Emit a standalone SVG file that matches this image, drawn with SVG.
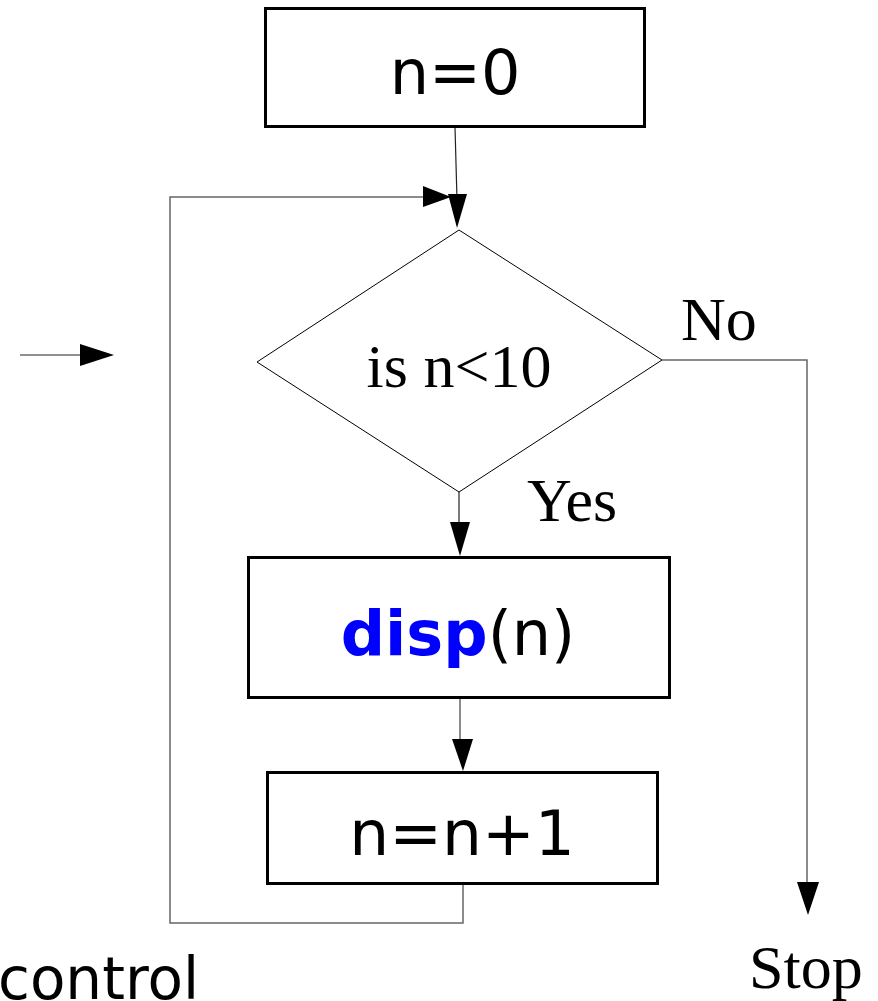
<svg xmlns="http://www.w3.org/2000/svg" width="878" height="1001" viewBox="0 0 878 1001">
<style>
.box{fill:#fff;stroke:#000;stroke-width:3}
.dia{fill:#fff;stroke:#000;stroke-width:1}
.ln{fill:none;stroke:#222;stroke-width:1.2}
.lg{fill:none;stroke:#666;stroke-width:1.5}
.ah{fill:#000;stroke:none}
.sans{font-family:"DejaVu Sans",sans-serif;font-size:62px;fill:#000}
.serif{font-family:"Liberation Serif",serif;font-size:62px;fill:#000}
</style>
<rect width="878" height="1001" fill="#fff"/>
<g id="connectors">
<line class="ln" x1="455" y1="127" x2="457" y2="200"/>
<polygon class="ah" points="448,194 467,194 457,228"/>
<polyline class="lg" points="463,884 463,923 170,923 170,197 425,197"/>
<polygon class="ah" points="423,186 423,207 451,197"/>
<line class="ln" x1="20" y1="355" x2="82" y2="355"/>
<polygon class="ah" points="80,344 80,366 114,355"/>
<polyline class="lg" points="662,360 807,360 807,885"/>
<polygon class="ah" points="797,882 819,882 808,915"/>
<line class="ln" x1="459" y1="492" x2="459" y2="526"/>
<polygon class="ah" points="450,522 470,522 460,556"/>
<line class="lg" x1="460" y1="698" x2="460" y2="742"/>
<polygon class="ah" points="452,739 473,739 463,771"/>
</g>
<g id="n0">
<rect class="box" x="265.5" y="8.5" width="379" height="118"/>
<text class="sans" x="455" y="94" text-anchor="middle">n=0</text>
</g>
<g id="cond">
<polygon class="dia" points="459,230 662,360 459,492 257,362"/>
<text class="serif" x="459" y="387" text-anchor="middle">is n&lt;10</text>
</g>
<g id="labels">
<text class="serif" x="681" y="340">No</text>
<text class="serif" x="527" y="521">Yes</text>
<text class="serif" x="749" y="988">Stop</text>
<text class="sans" x="-2" y="999" style="font-size:58px">control</text>
</g>
<g id="disp">
<rect class="box" x="248.5" y="557.5" width="421" height="140"/>
<text class="sans" x="458" y="655" text-anchor="middle"><tspan style="font-weight:bold;fill:#0000ff">disp</tspan>(n)</text>
</g>
<g id="inc">
<rect class="box" x="267.5" y="772.5" width="390" height="111"/>
<text class="sans" x="462" y="855" text-anchor="middle" style="font-size:63px">n=n+1</text>
</g>
</svg>
